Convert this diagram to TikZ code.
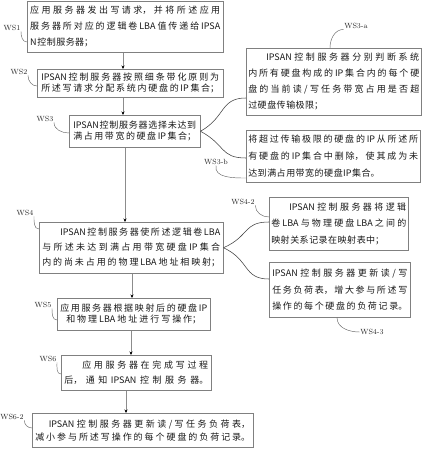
\documentclass[tikz,border=0pt]{standalone}
\usepackage{fontspec}
\newfontfamily\cjk{Noto Sans CJK SC}
\usetikzlibrary{arrows.meta}
\XeTeXlinebreaklocale "zh"
\XeTeXlinebreakskip=0.5pt plus 5pt
\tolerance=10000
\hbadness=10000
\newcommand\bx[1]{\cjk\fontsize{9}{#1}\selectfont\parindent=0pt\relax}
\newcommand\bxf[1]{\cjk\fontsize{9}{#1}\selectfont\parindent=0pt\parfillskip=0pt\relax}
\begin{document}
\begin{tikzpicture}[x=1pt,y=-1pt,
  box/.style={draw=black!50, line width=0.5pt, anchor=north west, inner ysep=0pt, align=justify, text=black!90},
  lab/.style={font=\fontsize{7.5}{8}\selectfont, text=black!85, inner sep=0.5pt},
  lead/.style={draw=black!60, line width=0.45pt},
  brc/.style={draw=black!75, line width=0.55pt},
  arr/.style={draw=black!45, line width=0.45pt, -{Stealth[length=3.5pt,width=3pt,color=black]}}]
\useasboundingbox (0,0) rectangle (423,450);

% main column
\node[box, inner xsep=3pt, text width=190pt, minimum height=51pt, font=\bx{16}] (ws1) at (27,1) {应用服务器发出写请求，并将所述应用\linebreak 服务器所对应的逻辑卷LBA值传递给IPSA\linebreak N控制服务器；};
\node[box, inner xsep=4pt, text width=178pt, minimum height=28pt, font=\bxf{11}] (ws2) at (37,69) {IPSAN控制服务器按照细条带化原则为\linebreak 所述写请求分配系统内硬盘的IP集合；};
\node[box, inner xsep=4pt, text width=123pt, minimum height=32pt, font=\bxf{11}] (ws3) at (69,115) {IPSAN控制服务器选择未达到\linebreak 满占用带宽的硬盘IP集合；};
\node[box, inner xsep=3pt, text width=178pt, minimum height=51pt, font=\bxf{15}] (ws4) at (39,222) {\hspace*{2em}IPSAN控制服务器使所述逻辑卷LBA\linebreak 与所述未达到满占用带宽硬盘IP集合\linebreak 内的尚未占用的物理LBA地址相映射；};
\node[box, inner xsep=3pt, text width=147pt, minimum height=32pt, font=\bxf{11}] (ws5) at (57,298) {应用服务器根据映射后的硬盘IP\linebreak \hspace*{6pt}和物理LBA地址进行写操作；\hspace*{6pt}};
\node[box, inner xsep=3pt, text width=144pt, minimum height=35pt, font=\bxf{15}] (ws6) at (61,355) {\hspace*{2em}应用服务器在完成写过程\linebreak 后，通知IPSAN控制服务器。};
\node[box, inner xsep=3pt, text width=215pt, minimum height=34pt, font=\bxf{13}] (ws62) at (32,413) {\hspace*{1.5em}IPSAN控制服务器更新读 / 写任务负荷表，\linebreak 减小参与所述写操作的每个硬盘的负荷记录。};

% side boxes
\node[box, inner xsep=2pt, text width=171pt, minimum height=67pt, font=\bxf{16}] (ws3a) at (246,48) {\hspace*{2em}IPSAN控制服务器分别判断系统\linebreak 内所有硬盘构成的IP集合内的每个硬\linebreak 盘的当前读 / 写任务带宽占用是否超\linebreak 过硬盘传输极限；\hspace*{\fill}};
\node[box, inner xsep=2pt, text width=170pt, minimum height=52pt, font=\bx{17}] (ws3b) at (246,130) {将超过传输极限的硬盘的IP从所述所\linebreak 有硬盘的IP集合中删除，使其成为未\linebreak 达到满占用带宽的硬盘IP集合。};
\node[box, inner xsep=2pt, text width=135pt, minimum height=53pt, font=\bx{16.5}] (ws42) at (269,197) {\hspace*{2em}IPSAN控制服务器将逻辑\linebreak 卷LBA与物理硬盘LBA之间的\linebreak 映射关系记录在映射表中；};
\node[box, inner xsep=3pt, text width=135pt, minimum height=55pt, font=\bxf{16.5}] (ws43) at (269,262) {IPSAN控制服务器更新读 / 写\linebreak 任务负荷表，增大参与所述写\linebreak 操作的每个硬盘的负荷记录。};

% labels
\node[lab] (l1) at (12,28) {WS1};
\node[lab] (l2) at (19,72) {WS2};
\node[lab] (l3) at (45,119) {WS3};
\node[lab] (l3a) at (356,26) {WS3-a};
\node[lab] (l3b) at (216,162) {WS3-b};
\node[lab] (l4) at (25,213) {WS4};
\node[lab] (l42) at (243,202) {WS4-2};
\node[lab] (l43) at (372,332) {WS4-3};
\node[lab] (l5) at (43,305) {WS5};
\node[lab] (l6) at (48,359) {WS6};
\node[lab] (l62) at (12,417) {WS6-2};

% leaders
\draw[lead] (l1.south east) to[out=-90,in=180] (ws1.west |- 0,42);
\draw[lead] (l2.south east) to[out=-90,in=180] (ws2.west |- 0,86);
\draw[lead] (l3.south east) to[out=-90,in=180] (ws3.west |- 0,133);
\draw[lead] (ws3a.north -| 330,0) to[out=90,in=180] (l3a.south west);
\draw[lead] (l3b.south) to[out=-100,in=180] (ws3b.west |- 0,178);
\draw[lead] (l4.south east) to[out=-90,in=180] (ws4.west |- 0,229);
\draw[lead] (l42.south east) to[out=-90,in=180] (ws42.west |- 0,217);
\draw[lead] (ws43.south -| 337,0) to[out=-90,in=180] (l43.west);
\draw[lead] (l5.south east) to[out=-90,in=180] (ws5.west |- 0,320);
\draw[lead] (l6.south east) to[out=-90,in=180] (ws6.west |- 0,374);
\draw[lead] (l62.south east) to[out=-90,in=180] (ws62.west |- 0,428);

% braces
\draw[brc] (ws3.east) .. controls (226,117) and (220,98) .. (ws3a.west |- 0,98);
\draw[brc] (ws3.east) .. controls (226,145) and (220,158) .. (ws3b.west |- 0,158);
\draw[brc] (ws4.east) .. controls (250,236) and (243,222) .. (ws42.west |- 0,222);
\draw[brc] (ws4.east) .. controls (250,260) and (243,279) .. (ws43.west |- 0,279);

% arrows
\draw[arr] (ws1.south -| 123,0) -- (ws2.north -| 123,0);
\draw[arr] (ws2.south -| 123,0) -- (ws3.north -| 123,0);
\draw[arr] (ws3.south -| 125,0) -- (ws4.north -| 125,0);
\draw[arr] (ws4.south -| 132,0) -- (ws5.north -| 132,0);
\draw[arr] (ws5.south -| 131,0) -- (ws6.north -| 131,0);
\draw[arr] (ws6.south -| 126,0) -- (ws62.north -| 126,0);
\end{tikzpicture}
\end{document}
